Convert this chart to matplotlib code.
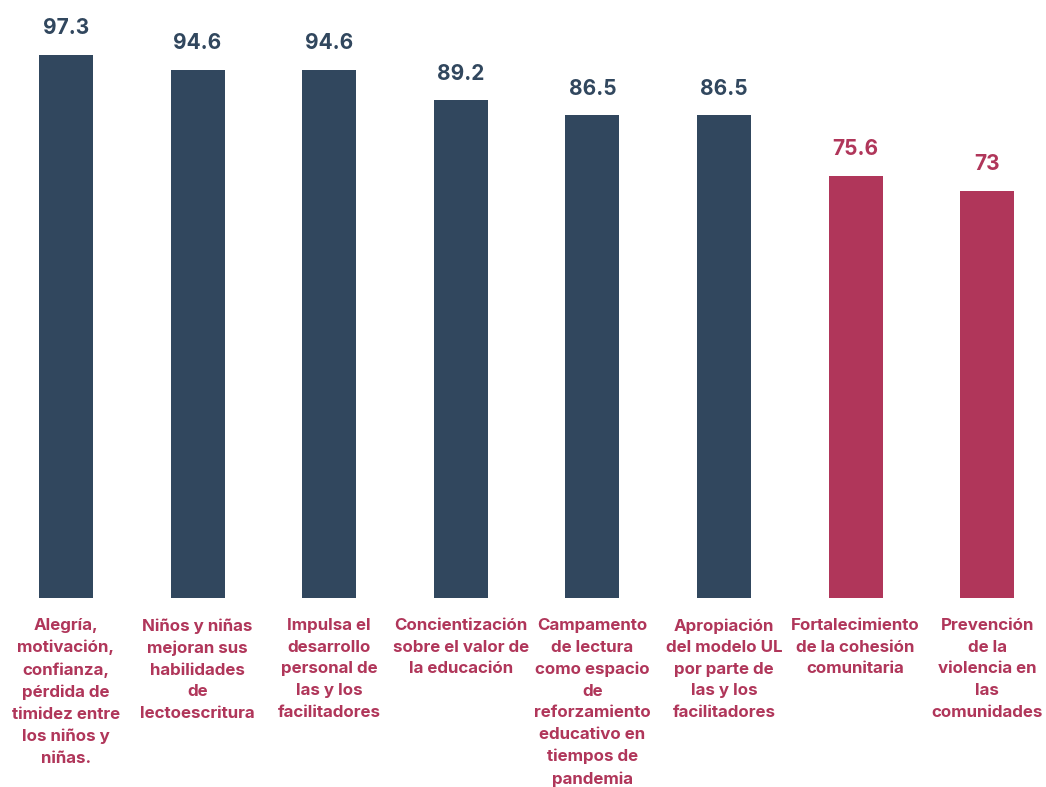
import matplotlib
matplotlib.use('Agg')
import matplotlib.pyplot as plt

categories = [
    "Alegría,\nmotivación,\nconfianza,\npérdida de\ntimidez entre\nlos niños y\nniñas.",
    "Niños y niñas\nmejoran sus\nhabilidades\nde\nlectoescritura",
    "Impulsa el\ndesarrollo\npersonal de\nlas y los\nfacilitadores",
    "Concientización\nsobre el valor de\nla educación",
    "Campamento\nde lectura\ncomo espacio\nde\nreforzamiento\neducativo en\ntiempos de\npandemia",
    "Apropiación\ndel modelo UL\npor parte de\nlas y los\nfacilitadores",
    "Fortalecimiento\nde la cohesión\ncomunitaria",
    "Prevención\nde la\nviolencia en\nlas\ncomunidades",
]
values = [97.3, 94.6, 94.6, 89.2, 86.5, 86.5, 75.6, 73]
value_labels = ["97.3", "94.6", "94.6", "89.2", "86.5", "86.5", "75.6", "73"]
groups = ["a", "a", "a", "a", "a", "a", "b", "b"]

BLUE = "#31475e"
RED = "#b0365a"
colors = [BLUE if g == "a" else RED for g in groups]

plt.rcParams['font.family'] = ['Inter', 'DejaVu Sans']

fig = plt.figure(figsize=(10.46, 7.87), dpi=100)
ax = fig.add_axes([0, 0.2402, 1, 0.709])

x = list(range(len(values)))
ax.bar(x, values, width=0.41, color=colors)

for xi, v, lab, c in zip(x, values, value_labels, colors):
    ax.annotate(lab, (xi, v), xytext=(0, 12), textcoords='offset points',
                ha='center', va='bottom', fontsize=15, fontweight='bold', color=c)

for xi, cat in zip(x, categories):
    ax.annotate(cat, (xi, 0), xytext=(0, -14.5), textcoords='offset points',
                ha='center', va='top', fontsize=12.2, fontweight='bold',
                color=RED, linespacing=1.55)

ax.set_xlim(-0.5015, 7.447)
ax.set_ylim(0, 100)
ax.axis('off')

fig.savefig('out.png', dpi=100)
plt.close(fig)
